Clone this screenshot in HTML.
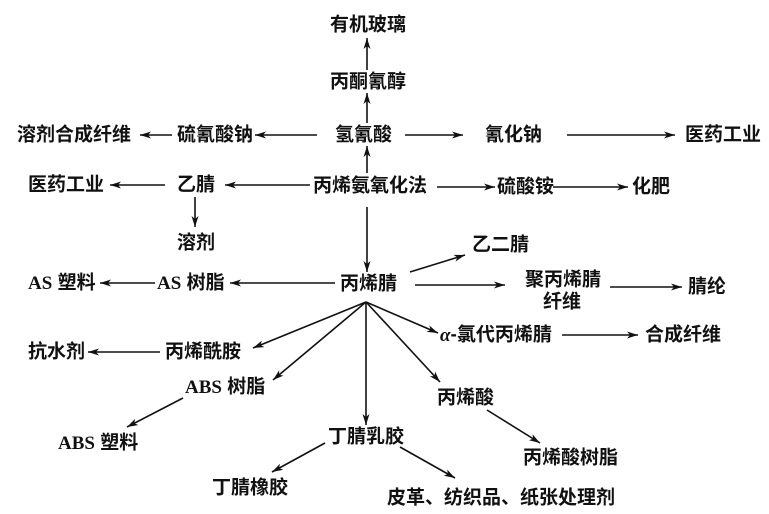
<!DOCTYPE html>
<html>
<head>
<meta charset="utf-8">
<style>
html,body{margin:0;padding:0;background:#fff;}
svg{display:block;}
text{font-family:"Liberation Sans","Noto Sans CJK SC",sans-serif;font-size:19px;font-weight:700;fill:#111;dominant-baseline:central;}
.l{font-family:"Liberation Serif",serif;font-weight:bold;}
</style>
</head>
<body>
<svg width="769" height="514" viewBox="0 0 769 514" xmlns="http://www.w3.org/2000/svg">
<defs>
<marker id="a" viewBox="0 0 11 7" refX="11" refY="3.5" markerWidth="11" markerHeight="7" markerUnits="userSpaceOnUse" orient="auto">
<path d="M0,0 L11,3.5 L0,7 L3,3.5z" fill="#111"/>
</marker>
</defs>
<g stroke="#111" stroke-width="1.6" fill="none" marker-end="url(#a)">
<line x1="367" y1="70" x2="367" y2="38"/>
<line x1="367" y1="123" x2="367" y2="93"/>
<line x1="367" y1="173" x2="367" y2="146"/>
<line x1="317" y1="135" x2="255" y2="135"/>
<line x1="172" y1="135" x2="140" y2="135"/>
<line x1="405" y1="135" x2="463" y2="135"/>
<line x1="567" y1="135" x2="675" y2="135"/>
<line x1="310" y1="185" x2="225" y2="185"/>
<line x1="165" y1="185" x2="110" y2="185"/>
<line x1="195" y1="197" x2="195" y2="227"/>
<line x1="437" y1="187" x2="495" y2="187"/>
<line x1="553" y1="187" x2="628" y2="187"/>
<line x1="367" y1="207" x2="367" y2="272"/>
<line x1="410" y1="272" x2="465" y2="255"/>
<line x1="415" y1="285" x2="505" y2="285"/>
<line x1="610" y1="287" x2="682" y2="287"/>
<line x1="335" y1="283" x2="230" y2="283"/>
<line x1="155" y1="283" x2="100" y2="283"/>
<line x1="366" y1="302" x2="253" y2="348"/>
<line x1="160" y1="352" x2="88" y2="352"/>
<line x1="366" y1="302" x2="273" y2="380"/>
<line x1="183" y1="398" x2="127" y2="427"/>
<line x1="366" y1="302" x2="366" y2="425"/>
<line x1="325" y1="443" x2="272" y2="472"/>
<line x1="400" y1="447" x2="455" y2="478"/>
<line x1="366" y1="302" x2="438" y2="333"/>
<line x1="562" y1="335" x2="638" y2="335"/>
<line x1="366" y1="302" x2="440" y2="382"/>
<line x1="487" y1="410" x2="540" y2="443"/>
</g>
<g>
<text x="330" y="25">有机玻璃</text>
<text x="330" y="82">丙酮氰醇</text>
<text x="335" y="135">氢氰酸</text>
<text x="177" y="135">硫氰酸钠</text>
<text x="17" y="135">溶剂合成纤维</text>
<text x="485" y="135">氰化钠</text>
<text x="685" y="135">医药工业</text>
<text x="313" y="186">丙烯氨氧化法</text>
<text x="177" y="185">乙腈</text>
<text x="28" y="185">医药工业</text>
<text x="177" y="243">溶剂</text>
<text x="497" y="187">硫酸铵</text>
<text x="632" y="187">化肥</text>
<text x="340" y="284">丙烯腈</text>
<text x="472" y="245">乙二腈</text>
<text x="525" y="280">聚丙烯腈</text>
<text x="543" y="302">纤维</text>
<text x="688" y="287">腈纶</text>
<text x="157" y="283"><tspan class="l">AS</tspan> 树脂</text>
<text x="28" y="283"><tspan class="l">AS</tspan> 塑料</text>
<text x="165" y="352">丙烯酰胺</text>
<text x="28" y="352">抗水剂</text>
<text x="185" y="387"><tspan class="l">ABS</tspan> 树脂</text>
<text x="58" y="443"><tspan class="l">ABS</tspan> 塑料</text>
<text x="328" y="437">丁腈乳胶</text>
<text x="212" y="488">丁腈橡胶</text>
<text x="387" y="498">皮革、纺织品、纸张处理剂</text>
<text x="440" y="335"><tspan font-family="Liberation Serif" font-style="italic">α</tspan>-氯代丙烯腈</text>
<text x="645" y="335">合成纤维</text>
<text x="437" y="398">丙烯酸</text>
<text x="523" y="458">丙烯酸树脂</text>
</g>
</svg>
</body>
</html>
